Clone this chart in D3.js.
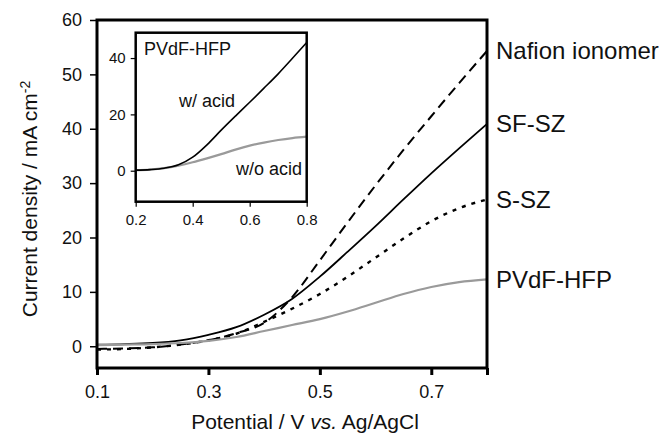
<!DOCTYPE html>
<meta charset="utf-8">
<script src="https://d3js.org/d3.v7.min.js"></script>
<style>
body { margin: 0; background: #fff; }
text { font-family: "Liberation Sans", Arial, sans-serif; fill: #111; }
.axis path, .axis line { stroke: #000; }
</style>
<div id="chart"></div>
<script>
// potentials (V vs Ag/AgCl)
var potential = [0.1, 0.15, 0.2, 0.25, 0.3, 0.35, 0.4, 0.45, 0.5, 0.55, 0.6, 0.65, 0.7, 0.75, 0.8];

// main panel currents (mA cm-2)
var nafion = [-0.5, -0.4, -0.2, 0.3, 1.1, 2.4, 4.3, 9.0, 15.8, 22.8, 29.6, 36.1, 42.3, 48.4, 54.3];
var sfsz   = [0.3, 0.4, 0.6, 1.1, 2.1, 3.5, 5.8, 8.7, 12.8, 17.4, 22.1, 27.0, 31.8, 36.4, 40.9];
var ssz    = [-0.6, -0.5, -0.2, 0.3, 1.1, 2.3, 4.5, 6.9, 9.6, 12.8, 16.3, 19.8, 23.0, 25.4, 27.0];
var pvdf   = [0.2, 0.3, 0.4, 0.6, 1.0, 1.7, 2.8, 3.9, 5.0, 6.4, 8.0, 9.6, 10.9, 11.8, 12.3];

var mainXTicks = [0.1, 0.3, 0.5, 0.7];
var mainYTicks = [0, 10, 20, 30, 40, 50, 60];

// inset: PVdF-HFP with / without acid
var insetPotential = [0.2, 0.25, 0.3, 0.35, 0.4, 0.45, 0.5, 0.55, 0.6, 0.65, 0.7, 0.75, 0.8];
var withAcid    = [0.2, 0.4, 0.9, 2.1, 4.8, 9.2, 14.4, 19.4, 24.3, 29.3, 34.4, 39.9, 45.5];
var withoutAcid = [0.2, 0.4, 0.9, 1.8, 3.0, 4.4, 5.9, 7.5, 8.9, 10.0, 10.9, 11.6, 12.1];
var insetXTicks = [0.2, 0.4, 0.6, 0.8];
var insetYTicks = [0, 20, 40];

var W = 664, H = 433;
var svg = d3.select("#chart").append("svg")
  .attr("width", W).attr("height", H);

// ---- main panel ----
var x = d3.scaleLinear().domain([0.1, 0.8]).range([97, 487]);
var y = d3.scaleLinear().domain([-4, 60]).range([368, 20]);

var line = d3.line()
  .x(function(d) { return x(d[0]); })
  .y(function(d) { return y(d[1]); })
  .curve(d3.curveMonotoneX);

var series = [
  {name: "Nafion ionomer", v: nafion, color: "#000", w: 2, dash: "10,6"},
  {name: "SF-SZ", v: sfsz, color: "#000", w: 1.8, dash: null},
  {name: "S-SZ", v: ssz, color: "#000", w: 2.4, dash: "4,6"},
  {name: "PVdF-HFP", v: pvdf, color: "#9a9a9a", w: 2.2, dash: null}
];

series.forEach(function(s) {
  svg.append("path")
    .datum(potential.map(function(p, i) { return [p, s.v[i]]; }))
    .attr("d", line)
    .attr("fill", "none")
    .attr("stroke", s.color)
    .attr("stroke-width", s.w)
    .attr("stroke-dasharray", s.dash);
  svg.append("text")
    .attr("x", x(0.8) + 9)
    .attr("y", y(s.v[s.v.length - 1]) + 8.5)
    .style("font-size", "24px")
    .text(s.name);
});

// frame
svg.append("rect")
  .attr("x", x(0.1)).attr("y", y(60))
  .attr("width", x(0.8) - x(0.1)).attr("height", y(-4) - y(60))
  .attr("fill", "none").attr("stroke", "#000").attr("stroke-width", 3);

var xAxis = svg.append("g").attr("class", "axis")
  .attr("transform", "translate(0," + y(-4) + ")")
  .call(d3.axisBottom(x).tickValues(mainXTicks.concat([0.8])).tickSize(7).tickSizeOuter(0)
    .tickFormat(function(d) { return d === 0.8 ? "" : d3.format(".1f")(d); }));
xAxis.select(".domain").remove();
xAxis.selectAll("line").attr("stroke-width", 3);
xAxis.selectAll("text").style("font-size", "18px").attr("dy", "1.1em").attr("fill", "#222");

var yAxis = svg.append("g").attr("class", "axis")
  .attr("transform", "translate(" + x(0.1) + ",0)")
  .call(d3.axisLeft(y).tickValues(mainYTicks).tickSize(7).tickSizeOuter(0));
yAxis.select(".domain").remove();
yAxis.selectAll("line").attr("stroke-width", 1.5);
yAxis.selectAll("text").style("font-size", "18px").attr("x", -15).attr("fill", "#222");

svg.append("text")
  .attr("x", (x(0.1) + x(0.8)) / 2 + 13)
  .attr("y", 429)
  .attr("text-anchor", "middle")
  .style("font-size", "21px")
  .html("Potential / V <tspan font-style='italic'>vs.</tspan> Ag/AgCl");

var yt = svg.append("text")
  .attr("transform", "translate(37,199) rotate(-90)")
  .attr("text-anchor", "middle")
  .style("font-size", "21px");
yt.append("tspan").text("Current density / mA cm");
yt.append("tspan").attr("dy", "-0.5em").style("font-size", "14px").text("-2");

// ---- inset ----
var xi = d3.scaleLinear().domain([0.2, 0.8]).range([135.7, 306.7]);
var yi = d3.scaleLinear().domain([-11, 49]).range([201.7, 32.7]);

svg.append("rect")
  .attr("x", xi(0.2)).attr("y", yi(49))
  .attr("width", xi(0.8) - xi(0.2)).attr("height", yi(-11) - yi(49))
  .attr("fill", "#fff");

var lineI = d3.line()
  .x(function(d) { return xi(d[0]); })
  .y(function(d) { return yi(d[1]); })
  .curve(d3.curveMonotoneX);

svg.append("path")
  .datum(insetPotential.map(function(p, i) { return [p, withoutAcid[i]]; }))
  .attr("d", lineI).attr("fill", "none")
  .attr("stroke", "#9a9a9a").attr("stroke-width", 2.2);
svg.append("path")
  .datum(insetPotential.map(function(p, i) { return [p, withAcid[i]]; }))
  .attr("d", lineI).attr("fill", "none")
  .attr("stroke", "#000").attr("stroke-width", 1.6);

svg.append("rect")
  .attr("x", xi(0.2)).attr("y", yi(49))
  .attr("width", xi(0.8) - xi(0.2)).attr("height", yi(-11) - yi(49))
  .attr("fill", "none").attr("stroke", "#000").attr("stroke-width", 2.5);

var xiAxis = svg.append("g").attr("class", "axis")
  .attr("transform", "translate(0," + yi(-11) + ")")
  .call(d3.axisBottom(xi).tickValues(insetXTicks).tickSize(5).tickSizeOuter(0).tickFormat(d3.format(".1f")));
xiAxis.select(".domain").remove();
xiAxis.selectAll("line").attr("stroke-width", 1.2);
xiAxis.selectAll("text").style("font-size", "15px").attr("dy", "1.05em").attr("fill", "#222");

var yiAxis = svg.append("g").attr("class", "axis")
  .attr("transform", "translate(" + xi(0.2) + ",0)")
  .call(d3.axisLeft(yi).tickValues(insetYTicks).tickSize(5).tickSizeOuter(0));
yiAxis.select(".domain").remove();
yiAxis.selectAll("line").attr("stroke-width", 1.2);
yiAxis.selectAll("text").style("font-size", "15px").attr("x", -10).attr("fill", "#222");

svg.append("text").attr("x", 144).attr("y", 55).style("font-size", "18px").text("PVdF-HFP");
svg.append("text").attr("x", 179).attr("y", 107).style("font-size", "18px").text("w/ acid");
svg.append("text").attr("x", 302).attr("y", 175).attr("text-anchor", "end").style("font-size", "18px").text("w/o acid");
</script>
